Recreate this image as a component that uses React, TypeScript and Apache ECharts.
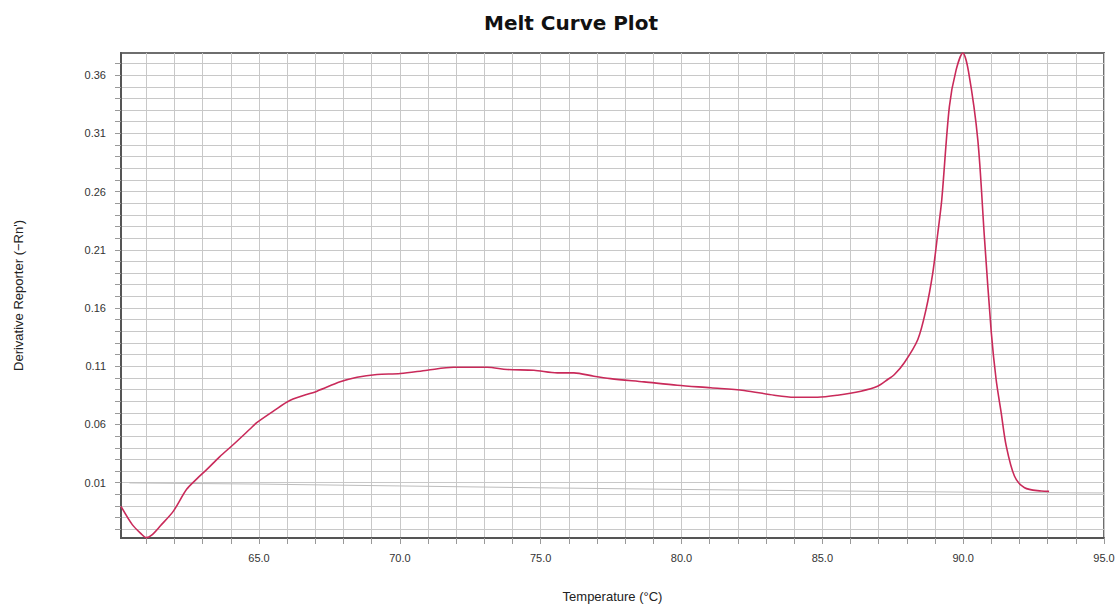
import React, { useEffect, useRef } from "react";
import * as echarts from "echarts";

const temps = [
  60.1, 60.5, 60.8, 61.0, 61.2, 61.5, 61.96, 62.43, 62.8, 63.15, 63.6, 64.09, 64.69, 64.92, 65.51,
  66.11, 67.06, 67.88, 68.48, 69.19, 70.02, 70.97, 71.91, 73.1, 73.81, 74.76, 75.59, 76.18,
  76.89, 77.48, 78.67, 79.85, 81.04, 82.22, 83.29, 84.0, 84.83, 85.54, 86.37, 86.96, 87.32,
  87.56, 87.91, 88.39, 88.68, 88.92, 89.1, 89.24, 89.51, 89.75, 89.99, 90.19, 90.52, 90.76,
  91.0, 91.17, 91.35, 91.53, 91.82, 92.18, 92.77, 93.05,
];
const derivative = [
  -0.0103, -0.026, -0.0335, -0.0372, -0.0348, -0.027, -0.0144, 0.0043, 0.0135, 0.0214, 0.0322,
  0.0428, 0.0563, 0.0615, 0.0714, 0.0808, 0.0886, 0.0966, 0.1006, 0.1029, 0.1037, 0.1066, 0.1091,
  0.1091, 0.1072, 0.1066, 0.1043, 0.1043, 0.1014, 0.0994, 0.0966, 0.0937, 0.0915, 0.0892,
  0.0851, 0.0834, 0.0834, 0.0851, 0.0886, 0.0928, 0.0986, 0.1029, 0.113, 0.133, 0.1586, 0.19,
  0.2244, 0.253, 0.333, 0.3645, 0.379, 0.363, 0.3044, 0.2187, 0.1386, 0.0986, 0.07, 0.0414,
  0.0157, 0.0057, 0.0028, 0.0025,
];

const baseTemps = [60.4, 65.0, 70.0, 75.0, 80.0, 85.0, 90.0, 95.0];
const baseValues = [0.0098, 0.0088, 0.0072, 0.0056, 0.0042, 0.003, 0.0019, 0.0012];

const xLabelValues = [65, 70, 75, 80, 85, 90, 95];
const xGridValues = [
  61, 62, 63, 64, 65, 66, 67, 68, 69, 70, 71, 72, 73, 74, 75, 76, 77, 78, 79, 80, 81, 82, 83, 84,
  85, 86, 87, 88, 89, 90, 91, 92, 93, 94, 95,
];
const yLabelValues = [0.01, 0.06, 0.11, 0.16, 0.21, 0.26, 0.31, 0.36];
const yGridValues = [
  -0.03, -0.02, -0.01, 0.0, 0.01, 0.02, 0.03, 0.04, 0.05, 0.06, 0.07, 0.08, 0.09, 0.1, 0.11, 0.12,
  0.13, 0.14, 0.15, 0.16, 0.17, 0.18, 0.19, 0.2, 0.21, 0.22, 0.23, 0.24, 0.25, 0.26, 0.27, 0.28,
  0.29, 0.3, 0.31, 0.32, 0.33, 0.34, 0.35, 0.36, 0.37,
];

const labelFont = "Liberation Sans, Tahoma, sans-serif";

export default function App() {
  const ref = useRef<HTMLDivElement>(null);
  useEffect(() => {
    if (!ref.current) return;
    const chart = echarts.init(ref.current, null, { renderer: "svg" });
    chart.setOption({
      animation: false,
      backgroundColor: "#ffffff",
      title: {
        text: "Melt Curve Plot",
        left: 479,
        top: 8,
        textStyle: {
          fontFamily: "DejaVu Sans, Verdana, sans-serif",
          fontWeight: "bold",
          fontSize: 20,
          color: "#111",
        },
      },
      grid: {
        left: 121,
        right: 16,
        top: 53,
        bottom: 69,
        show: true,
        borderColor: "#6e6e6e",
        borderWidth: 2,
      },
      xAxis: {
        type: "value",
        min: 60.1,
        max: 95,
        name: "Temperature (°C)",
        nameLocation: "middle",
        nameGap: 52,
        nameTextStyle: { fontFamily: labelFont, fontSize: 13, color: "#222" },
        axisLine: { show: true, onZero: false, lineStyle: { color: "#555", width: 2 } },
        axisTick: {
          show: true,
          length: 6,
          customValues: xGridValues,
          lineStyle: { color: "#999", width: 1 },
        },
        axisLabel: {
          customValues: xLabelValues,
          margin: 14,
          fontFamily: labelFont,
          fontSize: 11,
          color: "#333",
          formatter: (v: number) => v.toFixed(1),
        },
        splitLine: { show: true, lineStyle: { color: "#c8c8c8", width: 1 } },
      },
      yAxis: {
        type: "value",
        min: -0.0375,
        max: 0.379,
        name: "Derivative Reporter (\u2212Rn')",
        nameLocation: "middle",
        nameGap: 96,
        nameTextStyle: { fontFamily: labelFont, fontSize: 13, color: "#222" },
        axisLine: { show: true, onZero: false, lineStyle: { color: "#555", width: 2 } },
        axisTick: {
          show: true,
          length: 6,
          customValues: yGridValues,
          lineStyle: { color: "#999", width: 1 },
        },
        axisLabel: {
          customValues: yLabelValues,
          margin: 15,
          fontFamily: labelFont,
          fontSize: 11,
          color: "#333",
          formatter: (v: number) => v.toFixed(2),
        },
        splitLine: { show: true, lineStyle: { color: "#c8c8c8", width: 1 } },
      },
      series: [
        {
          type: "line",
          data: baseTemps.map((t, i) => [t, baseValues[i]]),
          showSymbol: false,
          lineStyle: { color: "#bdbdbd", width: 1 },
          z: 2,
        },
        {
          type: "line",
          data: temps.map((t, i) => [t, derivative[i]]),
          showSymbol: false,
          smooth: 0.3,
          lineStyle: { color: "#c92a5a", width: 1.6 },
          z: 3,
        },
      ],
    });
    return () => chart.dispose();
  }, []);
  return (
    <div
      ref={ref}
      style={{ position: "fixed", left: 0, top: 0, width: 1120, height: 608, background: "#fff" }}
    />
  );
}
